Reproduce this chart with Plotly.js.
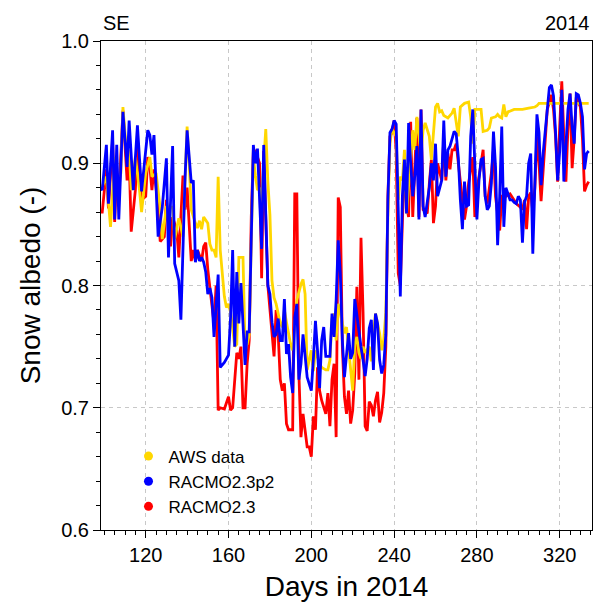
<!DOCTYPE html>
<html>
<head>
<meta charset="utf-8">
<script src="https://cdn.plot.ly/plotly-3.0.1.min.js"></script>
<style>
html,body{margin:0;padding:0;background:#fff;}
#chart{width:593px;height:602px;}
</style>
</head>
<body>
<div id="chart"></div>
<script>
// ---- data (day of year, snow albedo) ----
var seriesNames = ["AWS data", "RACMO2.3p2", "RACMO2.3"];
var seriesColors = ["#FFD700", "#0000FF", "#FF0000"];

var dayAWS = [98,99,101,103,105,106,108,109,111,112,113,115,117,118,120,122,123,125,127,128,130,133,134,136,138,140,141,142,144,145,146,147,148,150,151,152,153,154,155,156,158,159,160,161,162,163,164,165,167,168,169,170,171,172,173,174,175,176,177,178,179,180,181,182,183,184,185,186,187,188,189,190,191,192,193,195,196,197,198,200,201,202,204,205,207,208,209,210,211,212,213,214,216,217,218,219,220,221,222,223,224,225,226,228,229,230,231,233,234,235,236,237,238,239,240,241,242,243,244,245,246,248,249,250,251,253,254,255,257,258,259,260,261,262,263,264,266,267,268,269,270,271,272,274,276,277,278,279,282,283,285,286,287,289,290,291,292,293,294,295,298,302,305,308,309,310,315,320,325,330,334];
var albAWS = [0.880,0.881,0.889,0.848,0.905,0.878,0.892,0.946,0.903,0.911,0.878,0.905,0.878,0.860,0.892,0.905,0.889,0.892,0.863,0.838,0.864,0.864,0.838,0.855,0.840,0.930,0.900,0.862,0.851,0.847,0.853,0.846,0.856,0.851,0.834,0.829,0.829,0.823,0.889,0.829,0.791,0.782,0.785,0.778,0.765,0.750,0.752,0.823,0.823,0.750,0.752,0.760,0.837,0.905,0.890,0.878,0.880,0.860,0.900,0.928,0.885,0.858,0.804,0.790,0.785,0.777,0.769,0.766,0.780,0.770,0.761,0.752,0.747,0.769,0.788,0.801,0.805,0.793,0.731,0.747,0.730,0.747,0.736,0.733,0.731,0.731,0.739,0.773,0.777,0.755,0.785,0.777,0.761,0.766,0.750,0.735,0.714,0.752,0.758,0.745,0.740,0.750,0.745,0.750,0.738,0.761,0.777,0.761,0.747,0.756,0.778,0.859,0.917,0.928,0.925,0.922,0.870,0.889,0.886,0.911,0.859,0.905,0.927,0.911,0.938,0.908,0.927,0.933,0.922,0.903,0.925,0.946,0.949,0.942,0.943,0.939,0.937,0.939,0.941,0.945,0.933,0.922,0.946,0.949,0.950,0.938,0.916,0.944,0.944,0.926,0.927,0.929,0.937,0.938,0.940,0.938,0.937,0.948,0.938,0.942,0.944,0.944,0.945,0.946,0.947,0.949,0.949,0.949,0.949,0.949,0.949];

var dayP2 = [98,99,101,102,104,105,106,107,109,111,112,114,116,118,121,122,123,124,126,128,130,131,133,134,136,137,139,140,142,143,144,145,146,147,148,149,150,151,152,153,155,156,158,160,161,162,163,164,165,166,168,169,170,171,172,173,174,176,177,179,180,181,182,183,184,185,186,187,188,189,190,191,192,193,194,195,196,198,199,200,201,202,203,204,205,206,207,209,210,211,212,213,214,215,216,217,218,219,220,221,222,223,224,225,226,227,228,229,230,231,232,233,234,235,236,237,238,239,240,241,242,243,244,245,246,247,248,249,250,251,252,253,254,255,257,258,259,260,261,262,263,264,265,266,267,268,269,270,271,272,273,274,275,276,277,278,279,280,281,282,283,284,285,286,287,288,289,290,291,292,293,294,295,296,297,298,299,300,301,302,303,304,305,306,307,308,309,310,311,312,313,314,315,316,317,318,319,320,321,322,323,324,325,326,327,328,329,330,331,332,333,334];
var albP2 = [0.880,0.878,0.915,0.867,0.927,0.854,0.915,0.854,0.942,0.897,0.935,0.878,0.931,0.877,0.927,0.923,0.907,0.923,0.840,0.864,0.904,0.823,0.914,0.818,0.804,0.772,0.888,0.927,0.884,0.886,0.819,0.829,0.820,0.823,0.819,0.811,0.793,0.798,0.790,0.758,0.809,0.733,0.737,0.743,0.774,0.829,0.750,0.811,0.769,0.802,0.735,0.762,0.762,0.837,0.915,0.900,0.912,0.830,0.915,0.800,0.793,0.770,0.758,0.760,0.773,0.755,0.755,0.789,0.744,0.752,0.725,0.712,0.774,0.785,0.723,0.736,0.760,0.725,0.720,0.714,0.740,0.771,0.747,0.716,0.755,0.766,0.742,0.742,0.777,0.758,0.788,0.837,0.810,0.755,0.725,0.744,0.761,0.740,0.745,0.789,0.775,0.760,0.750,0.739,0.726,0.740,0.765,0.772,0.731,0.777,0.769,0.739,0.728,0.735,0.760,0.870,0.925,0.928,0.935,0.932,0.859,0.791,0.873,0.903,0.859,0.933,0.900,0.873,0.890,0.914,0.854,0.944,0.865,0.856,0.880,0.900,0.886,0.916,0.873,0.880,0.886,0.935,0.889,0.911,0.914,0.920,0.926,0.924,0.905,0.870,0.846,0.885,0.865,0.866,0.922,0.944,0.900,0.854,0.886,0.903,0.904,0.873,0.862,0.865,0.884,0.926,0.897,0.833,0.873,0.930,0.848,0.880,0.875,0.870,0.870,0.868,0.867,0.873,0.870,0.835,0.868,0.873,0.900,0.908,0.826,0.880,0.940,0.925,0.882,0.908,0.925,0.946,0.962,0.964,0.955,0.925,0.886,0.910,0.960,0.885,0.916,0.944,0.957,0.930,0.916,0.957,0.956,0.949,0.938,0.895,0.908,0.910];

var day23 = [98,99,101,102,104,105,106,107,109,111,112,113,115,116,118,120,121,122,123,124,126,127,129,130,132,133,135,136,138,139,140,142,143,144,145,147,148,149,150,152,153,154,155,156,158,160,161,162,163,164,165,166,167,168,169,170,171,172,173,175,176,177,179,180,181,182,183,184,185,186,187,188,189,191,192,193,194,195,196,198,199,200,201,202,203,204,205,207,208,209,210,211,212,213,214,215,216,217,218,219,220,221,222,223,224,225,226,227,228,229,230,231,232,233,234,235,236,237,238,239,240,241,242,243,245,246,247,248,249,251,252,253,254,256,257,258,259,260,261,263,264,265,266,267,268,269,270,272,273,274,275,276,278,279,280,281,283,284,285,287,288,289,291,292,294,296,299,301,302,303,304,305,306,307,308,309,310,311,312,313,314,316,317,318,319,320,321,322,323,324,325,326,327,328,329,330,331,332,333,334];
var alb23 = [0.860,0.860,0.895,0.863,0.919,0.852,0.892,0.870,0.943,0.886,0.905,0.844,0.878,0.916,0.870,0.873,0.905,0.897,0.878,0.895,0.864,0.836,0.840,0.870,0.832,0.856,0.845,0.823,0.890,0.862,0.880,0.820,0.829,0.820,0.829,0.820,0.832,0.835,0.813,0.784,0.769,0.800,0.698,0.700,0.699,0.709,0.698,0.700,0.720,0.745,0.740,0.750,0.700,0.700,0.736,0.755,0.856,0.910,0.910,0.900,0.806,0.910,0.800,0.782,0.758,0.742,0.780,0.760,0.723,0.714,0.720,0.687,0.682,0.682,0.875,0.875,0.728,0.676,0.695,0.668,0.668,0.660,0.693,0.682,0.733,0.714,0.706,0.695,0.712,0.685,0.723,0.736,0.676,0.872,0.864,0.750,0.709,0.695,0.714,0.687,0.698,0.728,0.799,0.723,0.839,0.778,0.685,0.681,0.705,0.702,0.693,0.706,0.713,0.688,0.696,0.712,0.750,0.873,0.922,0.925,0.935,0.910,0.810,0.800,0.903,0.865,0.856,0.934,0.856,0.937,0.856,0.944,0.862,0.859,0.883,0.903,0.851,0.865,0.900,0.886,0.920,0.886,0.908,0.895,0.911,0.911,0.916,0.884,0.867,0.854,0.865,0.884,0.905,0.856,0.878,0.889,0.911,0.873,0.867,0.892,0.911,0.873,0.845,0.873,0.873,0.875,0.867,0.864,0.862,0.870,0.846,0.873,0.876,0.860,0.880,0.922,0.900,0.869,0.895,0.922,0.944,0.956,0.944,0.922,0.885,0.930,0.967,0.922,0.885,0.930,0.957,0.896,0.920,0.954,0.950,0.946,0.920,0.877,0.882,0.885];

var xTickStep = 40, yTickStep = 0.1;

// ---- figure ----
var FONT = "Liberation Sans, Arial, Helvetica, sans-serif";
var lineW = 2.8;

var traces = [
  {x: day23, y: alb23, mode: "lines", line: {color: seriesColors[2], width: lineW}, showlegend: false, hoverinfo: "skip"},
  {x: dayAWS, y: albAWS, mode: "lines", line: {color: seriesColors[0], width: lineW}, showlegend: false, hoverinfo: "skip"},
  {x: dayP2, y: albP2, mode: "lines", line: {color: seriesColors[1], width: lineW}, showlegend: false, hoverinfo: "skip"}
];
// legend entries drawn as dots
for (var i = 0; i < seriesNames.length; i++) {
  traces.push({x: [null], y: [null], mode: "markers", name: seriesNames[i],
    marker: {color: seriesColors[i], size: 9}, legendgroup: "g" + i, showlegend: true});
}

var layout = {
  width: 593, height: 602,
  margin: {l: 101, r: 1, t: 41, b: 72},
  paper_bgcolor: "#fff", plot_bgcolor: "#fff",
  font: {family: FONT, color: "#000"},
  showlegend: true,
  legend: {x: 0.056, y: 0.187, xanchor: "left", yanchor: "top", bgcolor: "rgba(0,0,0,0)",
    font: {size: 17, family: FONT}, traceorder: "grouped", tracegroupgap: 0, itemwidth: 30},
  xaxis: {
    range: [98.4, 335.6], dtick: xTickStep, tick0: 0,
    ticks: "outside", ticklen: 7, tickwidth: 1, tickcolor: "#000",
    showline: true, mirror: true, linecolor: "#000", linewidth: 1,
    showgrid: true, gridcolor: "#c8c8c8", griddash: "4px,4px", gridwidth: 1,
    zeroline: false,
    minor: {dtick: 5, tick0: 0, ticks: "outside", ticklen: 4, tickcolor: "#000", showgrid: false},
    tickfont: {size: 20, family: FONT},
    title: {text: "Days in 2014", font: {size: 28, family: FONT}, standoff: 11}
  },
  yaxis: {
    range: [0.6, 1.0], dtick: yTickStep, tick0: 0, tickformat: ".1f",
    ticks: "outside", ticklen: 7, tickwidth: 1, tickcolor: "#000",
    showline: true, mirror: true, linecolor: "#000", linewidth: 1,
    showgrid: true, gridcolor: "#c8c8c8", griddash: "4px,4px", gridwidth: 1,
    zeroline: false,
    minor: {dtick: 0.02, tick0: 0, ticks: "outside", ticklen: 4, tickcolor: "#000", showgrid: false},
    tickfont: {size: 20, family: FONT},
    title: {text: "Snow albedo (-)", font: {size: 28, family: FONT}, standoff: 12}
  },
  annotations: [
    {xref: "paper", yref: "paper", x: 0, y: 1, xanchor: "left", yanchor: "bottom", yshift: 5,
     text: "SE", showarrow: false, font: {size: 20, family: FONT}},
    {xref: "paper", yref: "paper", x: 1, y: 1, xanchor: "right", yanchor: "bottom", yshift: 5,
     text: "2014", showarrow: false, font: {size: 20, family: FONT}}
  ]
};

Plotly.newPlot("chart", traces, layout, {staticPlot: true, displayModeBar: false});
</script>
</body>
</html>
